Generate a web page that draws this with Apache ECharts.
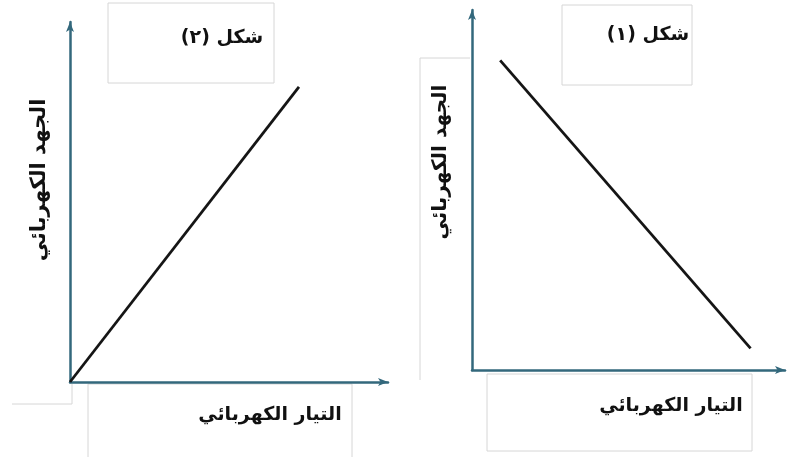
<!DOCTYPE html>
<html>
<head>
<meta charset="utf-8">
<script src="https://cdn.jsdelivr.net/npm/echarts@6/dist/echarts.min.js"></script>
<style>
  html, body { margin: 0; padding: 0; background: #fff; }
  #main { width: 787px; height: 457px; }
</style>
</head>
<body>
<div id="main"></div>
<script>
// العناوين وأسماء المحاور
var figTitles = ["شكل (٢)", "شكل (١)"];
var yName = "الجهد الكهربائي";
var xName = "التيار الكهربائي";

// شكل (٢): علاقة طردية من نقطة الأصل
var fig2X = [0, 72];
var fig2Y = [0, 82];
// شكل (١): علاقة عكسية
var fig1X = [9, 89];
var fig1Y = [86, 6];

function pairs(xs, ys) {
  return xs.map(function (x, i) { return [x, ys[i]]; });
}

var axisColor = "#33687c";
var font = "DejaVu Sans";

function valAx(idx) {
  return {
    type: "value", gridIndex: idx, min: 0, max: 100,
    axisLine: { lineStyle: { color: axisColor, width: 2.5 }, symbol: ["none", "arrow"], symbolSize: [6, 10] },
    axisTick: { show: false }, axisLabel: { show: false }, splitLine: { show: false }
  };
}

var boxStyle = { fill: "none", stroke: "#d6d6d6", lineWidth: 1 };
var label = function (txt, x, y, size, rot) {
  return {
    type: "text", x: x, y: y, rotation: rot || 0,
    style: { text: txt, font: "bold " + size + "px '" + font + "'", fill: "#111", align: "center", verticalAlign: "middle" },
    z: 10
  };
};

var chart = echarts.init(document.getElementById("main"));
chart.setOption({
  backgroundColor: "#fff",
  animation: false,
  grid: [
    { left: 70, top: 22, width: 318, height: 360 },
    { left: 472, top: 10, width: 313, height: 360 }
  ],
  xAxis: [valAx(0), valAx(1)],
  yAxis: [valAx(0), valAx(1)],
  series: [
    {
      type: "line", xAxisIndex: 0, yAxisIndex: 0, data: pairs(fig2X, fig2Y),
      symbol: "none", lineStyle: { color: "#151515", width: 2.8 }
    },
    {
      type: "line", xAxisIndex: 1, yAxisIndex: 1, data: pairs(fig1X, fig1Y),
      symbol: "none", lineStyle: { color: "#151515", width: 2.8 }
    }
  ],
  graphic: [
    // boxes left
    { type: "rect", shape: { x: 108, y: 3, width: 166, height: 80 }, style: boxStyle },
    { type: "rect", shape: { x: 88, y: 384, width: 264, height: 80 }, style: boxStyle },
    { type: "polyline", shape: { points: [[12, 404], [72, 404], [72, 384]] }, style: { stroke: "#d6d6d6", lineWidth: 1 } },
    // boxes right
    { type: "rect", shape: { x: 562, y: 5, width: 130, height: 80 }, style: boxStyle },
    { type: "rect", shape: { x: 487, y: 374, width: 265, height: 77 }, style: boxStyle },
    { type: "polyline", shape: { points: [[470, 58], [420, 58], [420, 380]] }, style: { stroke: "#d6d6d6", lineWidth: 1 } },
    // texts
    label(figTitles[0], 222, 38, 19),
    label(figTitles[1], 648, 35, 19),
    label(yName, 40, 180, 21, Math.PI / 2),
    label(yName, 441, 162, 20, Math.PI / 2),
    label(xName, 270, 415, 19),
    label(xName, 671, 406, 19)
  ]
});
</script>
</body>
</html>
